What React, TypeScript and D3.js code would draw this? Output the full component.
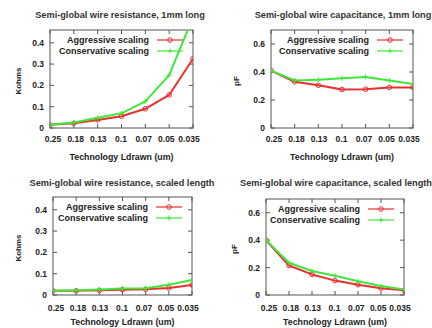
import React from "react";
import * as d3 from "d3";

const categories = ["0.25", "0.18", "0.13", "0.1", "0.07", "0.05", "0.035"];
const seriesNames = ["Aggressive scaling", "Conservative scaling"];

const resist1mmAggressive = [0.015, 0.022, 0.038, 0.055, 0.09, 0.155, 0.325];
const resist1mmConservative = [0.015, 0.026, 0.048, 0.069, 0.125, 0.248, 0.52];
const cap1mmAggressive = [0.41, 0.33, 0.305, 0.275, 0.277, 0.29, 0.29];
const cap1mmConservative = [0.41, 0.34, 0.345, 0.355, 0.365, 0.34, 0.315];
const resistScaledAggressive = [0.02, 0.02, 0.022, 0.025, 0.027, 0.033, 0.047];
const resistScaledConservative = [0.02, 0.022, 0.026, 0.03, 0.032, 0.048, 0.07];
const capScaledAggressive = [0.4, 0.215, 0.15, 0.105, 0.075, 0.05, 0.035];
const capScaledConservative = [0.4, 0.235, 0.175, 0.14, 0.1, 0.065, 0.04];

const titles = [
  "Semi-global wire resistance, 1mm long",
  "Semi-global wire capacitance, 1mm long",
  "Semi-global wire resistance, scaled length",
  "Semi-global wire capacitance, scaled length",
];
const yLabels = ["Kohms", "pF", "Kohms", "pF"];
const xLabel = "Technology Ldrawn (um)";
const yTicksRes = [0, 0.1, 0.2, 0.3, 0.4];
const yTicksCap = [0, 0.2, 0.4, 0.6];

const panelData = [
  [resist1mmAggressive, resist1mmConservative],
  [cap1mmAggressive, cap1mmConservative],
  [resistScaledAggressive, resistScaledConservative],
  [capScaledAggressive, capScaledConservative],
];
const panelYMax = [0.46, 0.7, 0.46, 0.7];
const panelYTicks = [yTicksRes, yTicksCap, yTicksRes, yTicksCap];

// layout
const layout = [
  { l: 50, r: 193, t: 30, b: 128, titleX: 120, titleY: 15, ylabX: 18, tickDy: 11, xlabDy: 29 },
  { l: 271, r: 413, t: 30, b: 128, titleX: 343, titleY: 15, ylabX: 236, tickDy: 11, xlabDy: 29 },
  { l: 53, r: 192, t: 197, b: 295, titleX: 122, titleY: 183, ylabX: 18, tickDy: 12.5, xlabDy: 26.5 },
  { l: 266, r: 404, t: 199, b: 295, titleX: 336, titleY: 183, ylabX: 234, tickDy: 12.5, xlabDy: 26.5 },
];

const colors = ["#e8302f", "#3ee83a"];
const font = "'Liberation Sans', Arial, Helvetica, sans-serif";
const axisColor = "#555";

function Marker({ x, y, i, color }: { x: number; y: number; i: number; color: string }) {
  if (i === 0) {
    return <circle cx={x} cy={y} r={2.3} fill="none" stroke={color} strokeWidth={1} />;
  }
  return (
    <g stroke={color} strokeWidth={1}>
      <line x1={x - 2.5} x2={x + 2.5} y1={y} y2={y} />
      <line x1={x} x2={x} y1={y - 2.5} y2={y + 2.5} />
    </g>
  );
}

function Panel({ idx }: { idx: number }) {
  const L = layout[idx];
  const x = d3.scalePoint<string>().domain(categories).range([L.l, L.r]);
  const xLab = d3.scalePoint<string>().domain(categories).range([L.l + 3, L.r - 4]);
  const y = d3.scaleLinear().domain([0, panelYMax[idx]]).range([L.b, L.t]);
  const line = d3
    .line<number>()
    .x((_, i) => x(categories[i]) as number)
    .y((v) => y(v));
  const clipId = `clip${idx}`;
  const ticks = panelYTicks[idx];
  return (
    <g>
      <defs>
        <clipPath id={clipId}>
          <rect x={L.l} y={L.t} width={L.r - L.l} height={L.b - L.t} />
        </clipPath>
      </defs>
      <text
        x={L.titleX}
        y={L.titleY}
        textAnchor="middle"
        dominantBaseline="central"
        fontSize={9.2}
        fontWeight="bold"
        fill="#333"
      >
        {titles[idx]}
      </text>
      <rect x={L.l} y={L.t} width={L.r - L.l} height={L.b - L.t} fill="white" stroke={axisColor} strokeWidth={1} />
      {ticks.map((t) => (
        <g key={t}>
          <line x1={L.l} x2={L.l + 4} y1={y(t)} y2={y(t)} stroke={axisColor} />
          <line x1={L.r} x2={L.r - 4} y1={y(t)} y2={y(t)} stroke={axisColor} />
          <text
            x={L.l - 6}
            y={y(t)}
            textAnchor="end"
            dominantBaseline="central"
            fontSize={8.5}
            fontWeight="bold"
            fill="#222"
          >
            {d3.format("~g")(t)}
          </text>
        </g>
      ))}
      {categories.map((c) => (
        <g key={c}>
          <line x1={x(c)} x2={x(c)} y1={L.b} y2={L.b - 4} stroke={axisColor} />
          <line x1={x(c)} x2={x(c)} y1={L.t} y2={L.t + 4} stroke={axisColor} />
          <text
            x={xLab(c)}
            y={L.b + L.tickDy}
            textAnchor="middle"
            dominantBaseline="central"
            fontSize={8.5}
            fontWeight="bold"
            fill="#222"
          >
            {c}
          </text>
        </g>
      ))}
      <text
        x={(L.l + L.r) / 2}
        y={L.b + L.xlabDy}
        textAnchor="middle"
        dominantBaseline="central"
        fontSize={8.8}
        fontWeight="bold"
        fill="#222"
      >
        {xLabel}
      </text>
      <text
        transform={`translate(${L.ylabX},${(L.t + L.b) / 2 + 2}) rotate(-90)`}
        textAnchor="middle"
        dominantBaseline="central"
        fontSize={8}
        fontWeight="bold"
        fill="#222"
      >
        {yLabels[idx]}
      </text>
      {/* legend */}
      {seriesNames.map((name, i) => {
        const ly = L.t + 10 + i * 11;
        return (
          <g key={name}>
            <text
              x={L.r - 44}
              y={ly}
              textAnchor="end"
              dominantBaseline="central"
              fontSize={9}
              fontWeight="bold"
              fill="#222"
            >
              {name}
            </text>
            <line x1={L.r - 36} x2={L.r - 10} y1={ly} y2={ly} stroke={colors[i]} strokeWidth={1.2} />
            <Marker x={L.r - 23} y={ly} i={i} color={colors[i]} />
          </g>
        );
      })}
      <g clipPath={`url(#${clipId})`}>
        {panelData[idx].map((vals, i) => (
          <g key={i}>
            <path d={line(vals) || ""} fill="none" stroke={colors[i]} strokeWidth={2} strokeLinejoin="round" />
            {vals.map((v, j) => (
              <Marker key={j} x={x(categories[j]) as number} y={y(v)} i={i} color={colors[i]} />
            ))}
          </g>
        ))}
      </g>
    </g>
  );
}

export default function App() {
  return (
    <svg
      width={432}
      height={328}
      style={{ position: "absolute", left: 0, top: 0, fontFamily: font, background: "white" }}
    >
      <rect width={432} height={328} fill="white" />
      {[0, 1, 2, 3].map((i) => (
        <Panel key={i} idx={i} />
      ))}
    </svg>
  );
}
